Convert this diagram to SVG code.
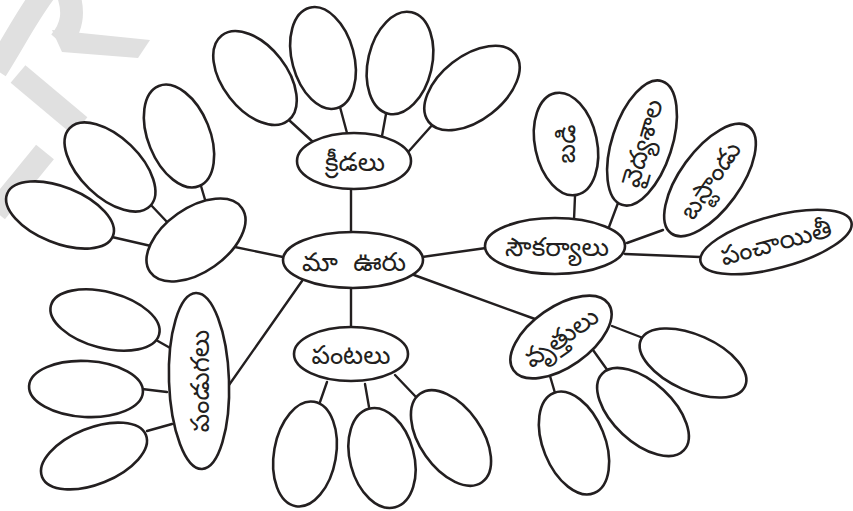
<svg xmlns="http://www.w3.org/2000/svg" width="853" height="511" viewBox="0 0 853 511">
<style>
.n{fill:#fff;stroke:#231f20;stroke-width:2.6}
.c line{stroke:#231f20;stroke-width:2.4;stroke-linecap:round}
.t{font-family:"Noto Sans Telugu","Noto Sans",sans-serif;font-size:26px;fill:#231f20;text-anchor:middle}
.wm{fill:none;stroke:#e0e0e0;stroke-width:23}
</style>
<rect width="853" height="511" fill="#fff"/>
<g id="watermark">
<path class="wm" d="M -4,70 C 15,40 30,10 48,-12"/>
<path class="wm" d="M 66,-12 C 76,12 72,28 60,42"/>
<path d="M 52,30 L 150,40 L 138,58 L 62,52 Z" fill="#e0e0e0"/>
<path class="wm" d="M 18,74 L 80,126"/>
<path class="wm" d="M 45,152 L -4,212"/>
</g>
<g id="connectors" class="c">
<line x1="351" y1="232" x2="351" y2="189"/>
<line x1="290" y1="121" x2="313" y2="142"/>
<line x1="340" y1="107" x2="347" y2="133"/>
<line x1="386" y1="114" x2="382" y2="136"/>
<line x1="434" y1="123" x2="409" y2="151"/>
<line x1="230" y1="246" x2="283" y2="257"/>
<line x1="112" y1="237" x2="151" y2="246"/>
<line x1="150" y1="204" x2="168" y2="223"/>
<line x1="201" y1="186" x2="206" y2="203"/>
<line x1="422" y1="257" x2="486" y2="248"/>
<line x1="575" y1="196" x2="574" y2="220"/>
<line x1="618" y1="203" x2="609" y2="227"/>
<line x1="663" y1="230" x2="627" y2="243"/>
<line x1="625" y1="254" x2="700" y2="257"/>
<line x1="414" y1="275" x2="535" y2="319"/>
<line x1="612" y1="326" x2="643" y2="338"/>
<line x1="593" y1="350" x2="608" y2="371"/>
<line x1="550" y1="376" x2="555" y2="393"/>
<line x1="351" y1="288" x2="351" y2="327"/>
<line x1="327" y1="382" x2="320" y2="402"/>
<line x1="365" y1="384" x2="369" y2="407"/>
<line x1="395" y1="375" x2="416" y2="397"/>
<line x1="302" y1="281" x2="229" y2="385"/>
<line x1="156" y1="340" x2="172" y2="349"/>
<line x1="142" y1="389" x2="167" y2="392"/>
<line x1="147" y1="431" x2="172" y2="424"/>
</g>
<g id="center"><ellipse class="n" cx="353" cy="260" rx="70" ry="28"/><text class="t" x="354" y="271" font-size="31" word-spacing="8">మా ఊరు</text></g>
<g id="kreedalu"><ellipse class="n" cx="354" cy="161" rx="57" ry="28"/><text class="t" x="355" y="171" font-size="27">క్రీడలు</text></g>
<g id="k1"><ellipse class="n" cx="0" cy="0" rx="54" ry="32" transform="translate(255,78) rotate(52)"/></g>
<g id="k2"><ellipse class="n" cx="0" cy="0" rx="31" ry="52" transform="translate(323,58) rotate(-15)"/></g>
<g id="k3"><ellipse class="n" cx="0" cy="0" rx="32" ry="52" transform="translate(400,63) rotate(13)"/></g>
<g id="k4"><ellipse class="n" cx="0" cy="0" rx="55" ry="32" transform="translate(472,88) rotate(-38)"/></g>
<g id="hub"><ellipse class="n" cx="0" cy="0" rx="56" ry="32" transform="translate(196,240) rotate(-35)"/></g>
<g id="l1"><ellipse class="n" cx="0" cy="0" rx="57" ry="28" transform="translate(60,215) rotate(22)"/></g>
<g id="l2"><ellipse class="n" cx="0" cy="0" rx="56" ry="30" transform="translate(110,167) rotate(44)"/></g>
<g id="l3"><ellipse class="n" cx="0" cy="0" rx="54" ry="31" transform="translate(179,136) rotate(68)"/></g>
<g id="soukaryalu"><ellipse class="n" cx="555" cy="246" rx="70" ry="28"/><text class="t" x="557" y="256" font-size="29">సౌకర్యాలు</text></g>
<g id="badi" transform="translate(566,144)"><ellipse class="n" cx="0" cy="0" rx="31" ry="52" transform="rotate(-12)"/><text class="t" x="0" y="9" font-size="25" transform="rotate(-90)">బడి</text></g>
<g id="vaidyasala" transform="translate(642,143)"><ellipse class="n" cx="0" cy="0" rx="30" ry="65" transform="rotate(18)"/><text class="t" x="0" y="9" font-size="25" transform="rotate(-74)">వైద్యశాల</text></g>
<g id="bustand" transform="translate(710,180)"><ellipse class="n" cx="0" cy="0" rx="30" ry="66" transform="rotate(36)"/><text class="t" x="0" y="9" font-size="26" transform="rotate(-56)">బస్టాండు</text></g>
<g id="panchayiti" transform="translate(776,242)"><ellipse class="n" cx="0" cy="0" rx="78" ry="26" transform="rotate(-15)"/><text class="t" x="0" y="9" font-size="26" transform="rotate(-15)">పంచాయితీ</text></g>
<g id="vruttulu" transform="translate(561,337)"><ellipse class="n" cx="0" cy="0" rx="58" ry="30" transform="rotate(-35)"/><text class="t" x="0" y="9" font-size="25" transform="rotate(-35)">వృత్తులు</text></g>
<g id="v1"><ellipse class="n" cx="0" cy="0" rx="57" ry="28" transform="translate(693,363) rotate(24)"/></g>
<g id="v2"><ellipse class="n" cx="0" cy="0" rx="56" ry="30" transform="translate(643,412) rotate(43)"/></g>
<g id="v3"><ellipse class="n" cx="0" cy="0" rx="54" ry="31" transform="translate(574,443) rotate(68)"/></g>
<g id="pantalu"><ellipse class="n" cx="351" cy="354" rx="57" ry="27"/><text class="t" x="351" y="364" font-size="29">పంటలు</text></g>
<g id="p1"><ellipse class="n" cx="0" cy="0" rx="31" ry="53" transform="translate(305,454) rotate(10)"/></g>
<g id="p2"><ellipse class="n" cx="0" cy="0" rx="32" ry="51" transform="translate(382,458) rotate(-15)"/></g>
<g id="p3"><ellipse class="n" cx="0" cy="0" rx="54" ry="31" transform="translate(451,438) rotate(55)"/></g>
<g id="pandugalu" transform="translate(199,381)"><ellipse class="n" cx="0" cy="0" rx="30" ry="88" transform="rotate(-2)"/><text class="t" x="0" y="10" font-size="29" transform="rotate(-90)">పండుగలు</text></g>
<g id="f1"><ellipse class="n" cx="0" cy="0" rx="56" ry="28" transform="translate(105,320) rotate(15)"/></g>
<g id="f2"><ellipse class="n" cx="0" cy="0" rx="57" ry="28" transform="translate(86,389) rotate(3)"/></g>
<g id="f3"><ellipse class="n" cx="0" cy="0" rx="56" ry="28" transform="translate(94,456) rotate(-22)"/></g>
</svg>
